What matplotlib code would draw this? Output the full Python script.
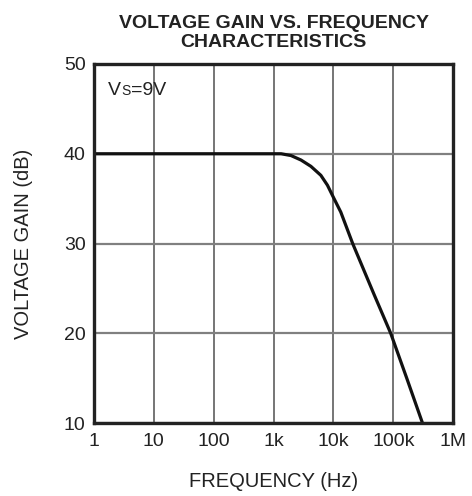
import matplotlib.pyplot as plt
from matplotlib.transforms import offset_copy

plt.rcParams['font.family'] = ['Liberation Sans', 'DejaVu Sans']

# Data
freq_hz = [1, 10, 100, 1000, 1340, 1960, 2880, 4210, 6170, 7950, 10000,
           13300, 21000, 48000, 90700, 168000, 308000]
gain_db = [40, 40, 40, 40, 40, 39.8, 39.3, 38.6, 37.6, 36.5, 35.15,
           33.5, 30, 24.3, 20, 15, 10]

x_ticks = [1, 10, 100, 1e3, 1e4, 1e5, 1e6]
x_labels = ["1", "10", "100", "1k", "10k", "100k", "1M"]
y_ticks = [10, 20, 30, 40, 50]

fig = plt.figure(figsize=(4.72, 4.96), dpi=100)
ax = fig.add_axes([0.199, 0.147, 0.761, 0.724])

ax.plot(freq_hz, gain_db, color="#111111", lw=2.3, solid_capstyle="butt",
        solid_joinstyle="round", zorder=3)

ax.set_xscale("log")
ax.set_xlim(1, 1e6)
ax.set_ylim(10, 50)
ax.set_xticks(x_ticks)
ax.set_xticklabels(x_labels)
ax.set_yticks(y_ticks)
ax.minorticks_off()
ax.tick_params(length=0, labelsize=14, colors="#222222")
ax.tick_params(axis="x", pad=7)
ax.tick_params(axis="y", pad=6)
ax.grid(True, axis="x", color="#505050", lw=1.1)
ax.grid(True, axis="y", color="#808080", lw=1.6)

for s in ax.spines.values():
    s.set_linewidth(2.4)
    s.set_color("#222222")
    s.set_zorder(4)

ax.set_xlabel("FREQUENCY (Hz)", fontsize=14.5, color="#222222", labelpad=16)
ax.set_ylabel("VOLTAGE GAIN (dB)", fontsize=14.5, color="#222222", labelpad=22)
ax.set_title("VOLTAGE GAIN VS. FREQUENCY\nCHARACTERISTICS", fontsize=14,
             fontweight="bold", color="#222222", pad=12, linespacing=1.2)

# "VS=9V" label with small S sitting on the baseline
lx, ly = 0.04, 0.914
t1 = ax.text(lx, ly, "V", transform=ax.transAxes, fontsize=14,
             color="#222222", va="baseline")
fig.canvas.draw()
w = t1.get_window_extent().width * 72 / fig.dpi
tr = offset_copy(ax.transAxes, fig=fig, x=w, y=0, units="points")
t2 = ax.text(lx, ly, "S", transform=tr, fontsize=10, color="#222222",
             va="baseline")
fig.canvas.draw()
w2 = t2.get_window_extent().width * 72 / fig.dpi
tr2 = offset_copy(ax.transAxes, fig=fig, x=w + w2, y=0, units="points")
ax.text(lx, ly, "=9V", transform=tr2, fontsize=14, color="#222222",
        va="baseline")

fig.savefig("out.png", dpi=100)
